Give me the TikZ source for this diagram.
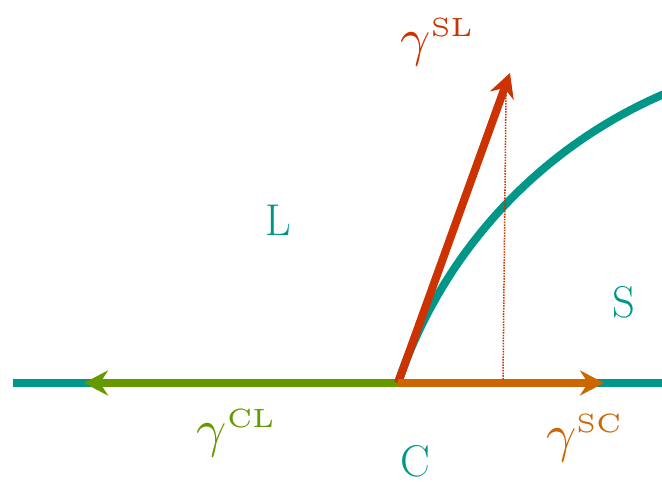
\documentclass[tikz,border=0pt]{standalone}
\usepackage{amsmath}
\usepackage{graphicx}
\usepackage{xcolor}
\usetikzlibrary{arrows.meta}
\definecolor{teal}{RGB}{0,150,136}
\definecolor{redsl}{RGB}{204,51,0}
\definecolor{orangesc}{RGB}{204,102,0}
\definecolor{greencl}{RGB}{102,153,0}
\newcommand{\tens}[1]{\scalebox{4.5}{$\gamma^{\scriptscriptstyle\mathrm{#1}}$}}
\tikzset{
  phase/.style={text=teal,font=\fontsize{38}{42}\selectfont,inner sep=0pt},
  tenslbl/.style={font=\normalsize,inner sep=0pt},
  vec/.style={line width=8*0.03cm,-{Stealth[length=0.72cm,width=0.75cm,inset=0.24cm]}},
  iface/.style={line width=8*0.03cm,teal},
}
\begin{document}
\begin{tikzpicture}[x=0.03cm,y=-0.03cm]
  \useasboundingbox (0,0) rectangle (662,487);
  \clip (0,0) rectangle (662,487);
  % contact point and ends
  \coordinate (C) at (398,383);
  \coordinate (Lend) at (13,383);
  \coordinate (Rend) at (668,383);
  \coordinate (CLtip) at (84,383);
  \coordinate (SCtip) at (604,383);
  \coordinate (SLtip) at (510,73);
  \coordinate (dtop) at (506,95);
  \coordinate (dbot) at (503,380);
  % interfaces
  \draw[iface] (Lend) -- (Rend);
  \draw[iface] (C) arc[start angle=161.46,end angle=110,radius=480.9*0.03cm];
  % tensions
  \draw[vec,greencl] (C) -- (CLtip);
  \draw[vec,redsl] (C) -- (SLtip);
  \draw[vec,orangesc] (C) -- (SCtip);
  \draw[redsl,line width=1.3pt,dash pattern=on 1.3pt off 1pt] (dtop) -- (dbot);
  % labels
  \node[phase] (L) at (278,220){L};
  \node[phase] (S) at (624,302){S};
  \node[phase] (Cl) at (415,461){C};
  \node[tenslbl,text=redsl] (gSL) at (438,42){\tens{SL}};
  \node[tenslbl,text=greencl] (gCL) at (237,433){\tens{CL}};
  \node[tenslbl,text=orangesc] (gSC) at (585,438){\tens{SC}};
\end{tikzpicture}
\end{document}
